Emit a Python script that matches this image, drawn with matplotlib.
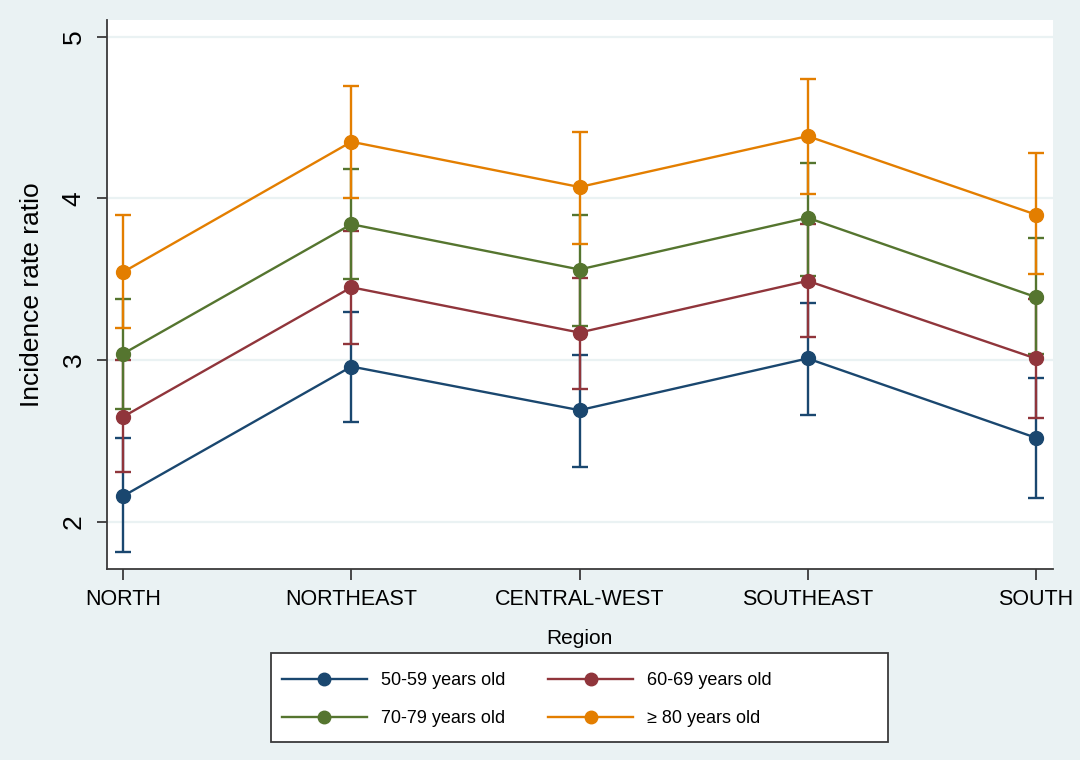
import matplotlib
matplotlib.use("Agg")
import matplotlib.pyplot as plt
from matplotlib.lines import Line2D
from matplotlib.patches import Rectangle
import numpy as np

plt.rcParams['font.family'] = ['Liberation Sans', 'DejaVu Sans']

regions = ["NORTH", "NORTHEAST", "CENTRAL-WEST", "SOUTHEAST", "SOUTH"]
series_labels = ["50-59 years old", "60-69 years old", "70-79 years old", "\u2265 80 years old"]

irr_50_59 = [2.16, 2.96, 2.69, 3.01, 2.52]
lo_50_59 = [1.81, 2.62, 2.34, 2.66, 2.15]
hi_50_59 = [2.52, 3.30, 3.03, 3.35, 2.89]

irr_60_69 = [2.65, 3.45, 3.17, 3.49, 3.01]
lo_60_69 = [2.31, 3.10, 2.82, 3.14, 2.64]
hi_60_69 = [3.00, 3.80, 3.51, 3.84, 3.38]

irr_70_79 = [3.04, 3.84, 3.56, 3.88, 3.39]
lo_70_79 = [2.70, 3.50, 3.21, 3.52, 3.04]
hi_70_79 = [3.38, 4.18, 3.90, 4.22, 3.755]

irr_80 = [3.545, 4.35, 4.07, 4.385, 3.90]
lo_80 = [3.20, 4.00, 3.72, 4.03, 3.53]
hi_80 = [3.90, 4.695, 4.41, 4.74, 4.28]

y_ticks = [2, 3, 4, 5]

colors = ["#1a476f", "#90353b", "#55752f", "#e37e00"]
bg = "#eaf2f3"

fig = plt.figure(figsize=(10.8, 7.6), dpi=100, facecolor=bg)
ax = fig.add_axes([0.0988, 0.2509, 0.975 - 0.0988, 0.9737 - 0.2509])
ax.set_facecolor("white")

x = np.arange(1, len(regions) + 1)
all_series = [
    (irr_50_59, lo_50_59, hi_50_59),
    (irr_60_69, lo_60_69, hi_60_69),
    (irr_70_79, lo_70_79, hi_70_79),
    (irr_80, lo_80, hi_80),
]

for y in y_ticks:
    ax.axhline(y, color=bg, lw=1.6, zorder=0)

for i, (v, lo, hi) in enumerate(all_series):
    v = np.array(v); lo = np.array(lo); hi = np.array(hi)
    ax.errorbar(x, v, yerr=[v - lo, hi - v], fmt='none', ecolor=colors[i],
                elinewidth=1.7, capsize=5.5, capthick=1.7, zorder=2 + i)
for i, (v, lo, hi) in enumerate(all_series):
    ax.plot(x, v, color=colors[i], lw=1.7, marker='o', ms=10,
            zorder=10 + i)

ax.set_xlim(0.927, 5.076)
ax.set_ylim(1.706, 5.103)
ax.set_xticks(x)
ax.set_xticklabels(regions, fontsize=15.5)
ax.set_yticks(y_ticks)
ax.set_yticklabels([str(t) for t in y_ticks], fontsize=19, rotation=90, va='center')

for s in ['top', 'right']:
    ax.spines[s].set_visible(False)
for s in ['left', 'bottom']:
    ax.spines[s].set_color('#3a3a3a')
    ax.spines[s].set_linewidth(1.3)

ax.tick_params(axis='x', length=8, width=1.3, color='#3a3a3a', pad=6)
ax.tick_params(axis='y', length=7, width=1.3, color='#3a3a3a', pad=8)

ax.set_xlabel("Region", fontsize=15)
ax.xaxis.set_label_coords(0.5, -0.108)
ax.set_ylabel("Incidence rate ratio", fontsize=19)
ax.yaxis.set_label_coords(-0.066, 0.5)

# legend box
W, H = 1080.0, 760.0
fig.patches.append(Rectangle((271 / W, 1 - 742 / H), 617 / W, 89 / H,
                             transform=fig.transFigure, facecolor='white',
                             edgecolor='#3a3a3a', linewidth=1.3, zorder=1))

handles = [Line2D([0], [0], color=colors[i], lw=1.7, marker='o', ms=9)
           for i in range(4)]
order = [0, 2, 1, 3]
leg = fig.legend([handles[i] for i in order], [series_labels[i] for i in order],
                 ncol=2, loc='upper left', bbox_to_anchor=(282 / W, 1 - 672 / H),
                 fontsize=13, frameon=False,
                 handlelength=4.7, handletextpad=0.78, columnspacing=2.38,
                 labelspacing=1.19, borderpad=0, borderaxespad=0)
leg.set_zorder(5)

fig.savefig("out.png", dpi=100, facecolor=bg)
